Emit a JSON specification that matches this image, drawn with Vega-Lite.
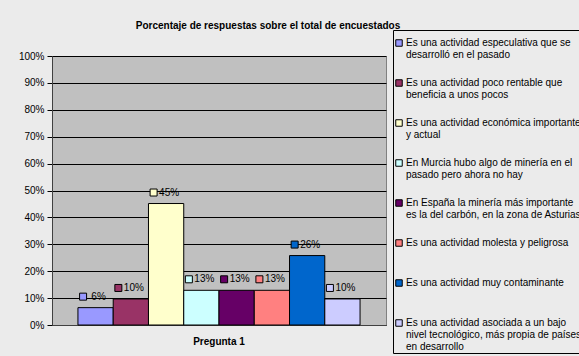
{
  "$schema": "https://vega.github.io/schema/vega-lite/v6.json",
  "width": 334,
  "height": 269,
  "autosize": {"type": "none"},
  "padding": {"left": 52, "top": 56, "right": 193, "bottom": 31},
  "background": "#ebebeb",
  "title": {
    "text": "Porcentaje de respuestas sobre el total de encuestados",
    "font": "Liberation Sans",
    "fontSize": 10,
    "fontWeight": "bold",
    "color": "black",
    "anchor": "middle",
    "frame": "group",
    "dx": 49,
    "offset": -1
  },
  "data": {
    "values": [
      {"pregunta": "Pregunta 1", "respuesta": "Es una actividad especulativa que se\ndesarrolló en el pasado", "porcentaje": 0.0645},
      {"pregunta": "Pregunta 1", "respuesta": "Es una actividad poco rentable que\nbeneficia a unos pocos", "porcentaje": 0.0968},
      {"pregunta": "Pregunta 1", "respuesta": "Es una actividad económica importante\ny actual", "porcentaje": 0.4516},
      {"pregunta": "Pregunta 1", "respuesta": "En Murcia hubo algo de minería en el\npasado pero ahora no hay", "porcentaje": 0.129},
      {"pregunta": "Pregunta 1", "respuesta": "En España la minería más importante\nes la del carbón, en la zona de Asturias", "porcentaje": 0.129},
      {"pregunta": "Pregunta 1", "respuesta": "Es una actividad molesta y peligrosa", "porcentaje": 0.129},
      {"pregunta": "Pregunta 1", "respuesta": "Es una actividad muy contaminante", "porcentaje": 0.2581},
      {"pregunta": "Pregunta 1", "respuesta": "Es una actividad asociada a un bajo\nnivel tecnológico, más propia de países\nen desarrollo", "porcentaje": 0.0968}
    ]
  },
  "encoding": {
    "x": {
      "field": "pregunta",
      "type": "nominal",
      "scale": {"paddingInner": 0, "paddingOuter": 0.092},
      "axis": {
        "title": null,
        "labelAngle": 0,
        "labelFont": "Liberation Sans",
        "labelFontSize": 10,
        "labelFontWeight": "bold",
        "labelColor": "black",
        "labelPadding": 11,
        "ticks": false,
        "domainColor": "#404040"
      }
    },
    "xOffset": {
      "field": "respuesta",
      "type": "nominal",
      "sort": null,
      "scale": {"paddingInner": 0, "paddingOuter": 0}
    },
    "y": {
      "field": "porcentaje",
      "type": "quantitative",
      "scale": {"domain": [0, 1]},
      "axis": {
        "title": null,
        "values": [0, 0.1, 0.2, 0.3, 0.4, 0.5, 0.6, 0.7, 0.8, 0.9, 1],
        "format": ".0%",
        "grid": true,
        "gridColor": "black",
        "gridWidth": 1,
        "domainColor": "#404040",
        "tickColor": "black",
        "tickSize": 5,
        "labelFont": "Liberation Sans",
        "labelFontSize": 10,
        "labelColor": "black",
        "labelPadding": 3
      }
    },
    "color": {
      "field": "respuesta",
      "type": "nominal",
      "sort": null,
      "scale": {
        "range": ["#9999ff", "#993366", "#ffffcc", "#ccffff", "#660066", "#ff8080", "#0066cc", "#ccccff"]
      },
      "legend": {
        "orient": "none",
        "legendX": 341,
        "legendY": -26,
        "title": " ",
        "titleFontSize": 1,
        "titlePadding": 6,
        "direction": "vertical",
        "columns": 1,
        "gridAlign": "all",
        "rowPadding": 5,
        "padding": 1,
        "strokeColor": "black",
        "fillColor": "#ebebeb",
        "labelFont": "Liberation Sans",
        "labelFontSize": 10,
        "labelColor": "black",
        "labelLimit": 400,
        "labelOffset": 2,
        "labelExpr": "split(datum.label, '\\n')",
        "symbolType": "square",
        "symbolSize": 42,
        "symbolStrokeColor": "black",
        "symbolStrokeWidth": 1,
        "symbolOpacity": 1
      }
    }
  },
  "layer": [
    {
      "mark": {"type": "bar", "stroke": "black", "strokeWidth": 1, "opacity": 1}
    },
    {
      "mark": {"type": "point", "shape": "M-1.6,-0.35H-0.9V0.35H-1.6Z", "size": 400, "filled": true, "opacity": 1, "stroke": "black", "strokeWidth": 1, "yOffset": -11}
    },
    {
      "mark": {"type": "text", "align": "center", "baseline": "middle", "dx": 3, "dy": -11, "font": "Liberation Sans", "fontSize": 10, "color": "black"},
      "encoding": {
        "text": {"field": "porcentaje", "type": "quantitative", "format": ".0%"},
        "color": {"value": "black"}
      }
    }
  ],
  "config": {
    "view": {"fill": "#c0c0c0", "stroke": "#808080"}
  }
}
